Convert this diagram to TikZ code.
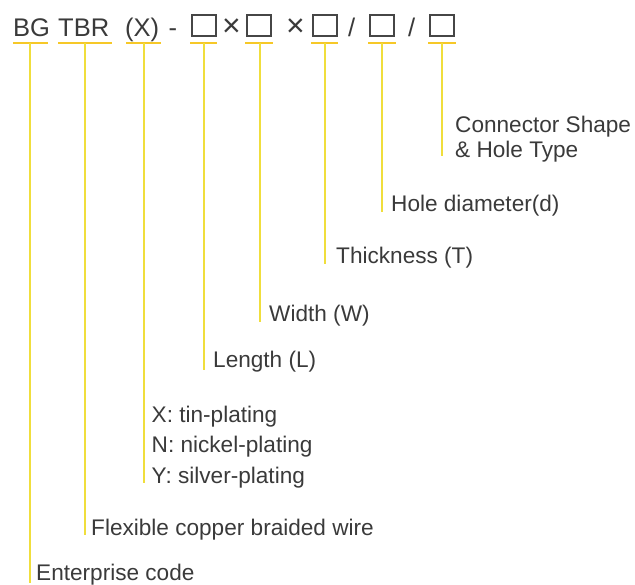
\documentclass[tikz,border=0pt]{standalone}
\usepackage{fontspec}
\setmainfont{Liberation Sans}
\definecolor{txt}{RGB}{58,58,58}
\definecolor{ucol}{RGB}{246,200,40}
\definecolor{vcol}{RGB}{240,222,60}
\definecolor{boxc}{RGB}{70,70,70}
\begin{document}
\begin{tikzpicture}[x=1pt,y=-1pt,
  ttl/.style={anchor=base west,inner sep=0pt,text=txt,font=\fontsize{25.5}{29}\selectfont},
  tms/.style={anchor=base west,inner sep=0pt,text=txt,font=\fontsize{32}{36}\selectfont},
  lbl/.style={anchor=base west,inner sep=0pt,text=txt,font=\fontsize{22.6}{26}\selectfont},
  sq/.style={draw=boxc,line width=2pt,minimum width=24pt,minimum height=21pt,inner sep=0pt},
  uline/.style={draw=ucol,line width=2.6pt},
  vline/.style={draw=vcol,line width=2.2pt}]
\useasboundingbox (0,0) rectangle (635,585);
% title
\node[ttl] (bg) at (13,37) {BG};
\node[ttl] (tbr) at (58,37) {TBR};
\node[ttl] (x) at (125,37) {(X)};
\node[ttl] (dash) at (168.5,37) {-};
\node[sq] (b1) at (203.5,26) {};
\node[tms] (t1) at (222,37) {×};
\node[sq] (b2) at (259,26) {};
\node[tms] (t2) at (286,37) {×};
\node[sq] (b3) at (324.5,26) {};
\node[ttl] (s1) at (348,37) {/};
\node[sq] (b4) at (382,26) {};
\node[ttl] (s2) at (408,37) {/};
\node[sq] (b5) at (442,26) {};
% labels
\node[lbl] (con1) at (455,133) {Connector Shape};
\node[lbl] (con2) at (455,158) {\& Hole Type};
\node[lbl] (hole) at (391,212) {Hole diameter(d)};
\node[lbl] (thk) at (336,264) {Thickness (T)};
\node[lbl] (wid) at (269,322) {Width (W)};
\node[lbl] (len) at (213,368) {Length (L)};
\node[lbl] (pl1) at (151.5,423) {X: tin-plating};
\node[lbl] (pl2) at (151.5,453) {N: nickel-plating};
\node[lbl] (pl3) at (151.5,483) {Y: silver-plating};
\node[lbl] (flex) at (91,535) {Flexible copper braided wire};
\node[lbl] (ent) at (36,580) {Enterprise code};
% underline anchor points
\coordinate (uBG) at (30,43);
\coordinate (uTBR) at (85,43);
\coordinate (uX) at (144,43);
\coordinate (u1) at (204,43);
\coordinate (u2) at (260,43);
\coordinate (u3) at (325,43);
\coordinate (u4) at (382,43);
\coordinate (u5) at (442,43);
% underlines
\draw[uline] (13,43) -- (48,43);
\draw[uline] (58,43) -- (112,43);
\draw[uline] (126,43) -- (161,43);
\draw[uline] (190,43) -- (217,43);
\draw[uline] (245,43) -- (273,43);
\draw[uline] (311,43) -- (338,43);
\draw[uline] (368,43) -- (396,43);
\draw[uline] (428,43) -- (456,43);
% verticals
\draw[vline] (uBG) -- (uBG |- 0,583);
\draw[vline] (uTBR) -- (uTBR |- flex.base);
\draw[vline] (uX) -- (uX |- pl3.base);
\draw[vline] (u1) -- ([yshift=-2pt]u1 |- len.base);
\draw[vline] (u2) -- (u2 |- wid.base);
\draw[vline] (u3) -- (u3 |- thk.base);
\draw[vline] (u4) -- (u4 |- hole.base);
\draw[vline] (u5) -- ([yshift=2pt]u5 |- con2.base);
\end{tikzpicture}
\end{document}
